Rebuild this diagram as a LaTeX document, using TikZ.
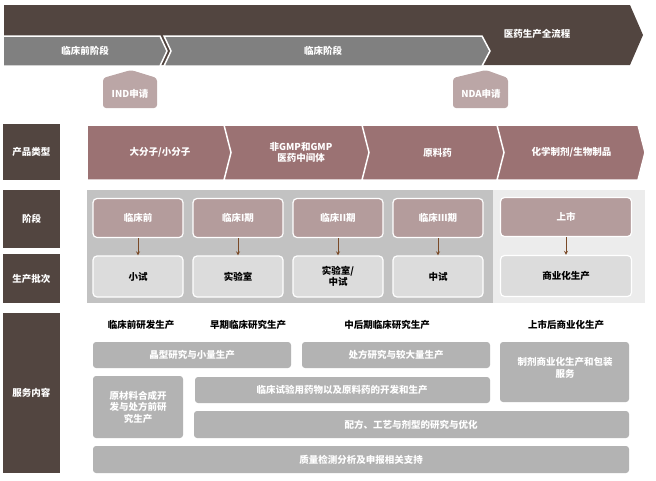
\documentclass[tikz,border=0pt]{standalone}
\usepackage{fontspec}
\setmainfont{Noto Sans CJK SC}
\usetikzlibrary{positioning}
\definecolor{darkbrown}{HTML}{524540}
\definecolor{midgray}{HTML}{808080}
\definecolor{rosebrown}{HTML}{9B7273}
\definecolor{rosepale}{HTML}{B49C9C}
\definecolor{bggray}{HTML}{C2C2C2}
\definecolor{bglight}{HTML}{ECECEC}
\definecolor{boxgray}{HTML}{B3B3B3}
\definecolor{batchgray}{HTML}{DCDCDC}
\definecolor{arrowbrown}{HTML}{7A4A28}
\begin{document}
\begin{tikzpicture}[x=1pt,y=-1pt,font=\fontsize{9.5}{11.5}\selectfont\bfseries]
    \tikzstyle{rowlabel} = [fill=darkbrown, text=white, align=center]
    \tikzstyle{stagebox} = [rectangle, rounded corners=4pt, draw=white, line width=1.2pt, fill=rosepale, text=white, minimum width=90pt, minimum height=39pt, align=center]
    \tikzstyle{batchbox} = [rectangle, rounded corners=4pt, draw=white, line width=1.2pt, fill=batchgray, minimum width=90pt, minimum height=41pt, align=center]
    \tikzstyle{servbox} = [rounded corners=3pt, fill=boxgray]
    \tikzstyle{servtext} = [text=white, align=center]
    \tikzstyle{arrow} = [arrowbrown, thick, ->, >=stealth]
    \useasboundingbox (0,0) rectangle (656,480);

    % top flow
    \fill[darkbrown] (4,5) -- (630,5) -- (643,35) -- (630,65) -- (4,65) -- cycle;
    \fill[midgray, draw=white, line width=1.5pt] (3,36) -- (160,36) -- (167,51) -- (160,66) -- (3,66) -- cycle;
    \fill[midgray, draw=white, line width=1.5pt] (164,36) -- (482,36) -- (490,51) -- (482,66) -- (164,66) -- (171,51) -- cycle;
    \node[text=white] (whole) at (537,34) {医药生产全流程};
    \node[text=white] (preclin) at (85,51) {临床前阶段};
    \node[text=white] (clin) at (323,51) {临床阶段};
    \fill[rosepale!90!white, rounded corners=3pt] (103,108) -- (103,78) -- (131,70) -- (157,78) -- (157,108) -- cycle;
    \node[text=white] (ind) at (130,94) {IND申请};
    \fill[rosepale!90!white, rounded corners=3pt] (453,108) -- (453,78) -- (486,70) -- (508,78) -- (508,108) -- cycle;
    \node[text=white] (nda) at (481,94) {NDA申请};

    % product types
    \node[rowlabel, minimum width=57pt, minimum height=56pt] (typelbl) at (31.5,152) {产品类型};
    \fill[rosebrown, draw=white, line width=1.5pt] (87,125) -- (232,125) -- (239,152.5) -- (232,180) -- (87,180) -- cycle;
    \node[text=white] (type1) at (160,152.5) {大分子/小分子};
    \foreach \xa/\xb/\txt [count=\i from 2] in {224/370/{非GMP和GMP\\医药中间体}, 362/505/{原料药}, 497/638/{化学制剂/生物制品}}{
        \fill[rosebrown, draw=white, line width=1.5pt] (\xa,125) -- (\xb,125) -- (\xb+7,152.5) -- (\xb,180) -- (\xa,180) -- (\xa+7,152.5) -- cycle;
        \node[text=white, align=center] (type\i) at ({(\xa+\xb)/2+4},152.5) {\txt};
    }

    % stages and batches
    \fill[bggray] (87,190) rectangle (493,303);
    \fill[bglight] (493,190) rectangle (645,303);
    \node[rowlabel, minimum width=57pt, minimum height=58pt] (stagelbl) at (31.5,219) {阶段};
    \node[rowlabel, minimum width=57pt, minimum height=49pt] (batchlbl) at (31.5,278.5) {生产批次};
    \foreach \x/\s/\b [count=\i] in {138/临床前/小试, 238/临床I期/实验室, 338/临床II期/{实验室/\\中试}, 438/临床III期/中试}{
        \node[stagebox] (st\i) at (\x,218) {\s};
        \node[batchbox] (bt\i) at (\x,276.5) {\b};
        \draw[arrow] (st\i) -- (bt\i);
    }
    \node[stagebox, minimum width=131pt] (st5) at (566,217) {上市};
    \node[batchbox, minimum width=131pt] (bt5) at (566,276) {商业化生产};
    \draw[arrow] (st5) -- (bt5);

    % services
    \node[rowlabel, minimum width=57pt, minimum height=160pt] (servlbl) at (31.5,393) {服务内容};
    \node (h1) at (141,325) {临床前研发生产};
    \node (h2) at (248,325) {早期临床研究生产};
    \node (h3) at (387,325) {中后期临床研究生产};
    \node (h4) at (566,325) {上市后商业化生产};
    \fill[servbox] (93,342) rectangle (291,368);
    \node[servtext] (s1) at (192,355) {晶型研究与小量生产};
    \fill[servbox] (302,342) rectangle (490,368);
    \node[servtext] (s2) at (396,355) {处方研究与较大量生产};
    \fill[servbox] (500,342) rectangle (629,402);
    \node[servtext] (s3) at (565,368) {制剂商业化生产和包装\\服务};
    \fill[servbox] (93,376) rectangle (183,438);
    \node[servtext] (s4) at (138,407) {原材料合成开\\发与处方前研\\究生产};
    \fill[servbox] (195,377) rectangle (490,403);
    \node[servtext] (s5) at (342,390) {临床试验用药物以及原料药的开发和生产};
    \fill[servbox] (194,411) rectangle (629,438);
    \node[servtext] (s6) at (411,424.5) {配方、工艺与剂型的研究与优化};
    \fill[servbox] (93,446) rectangle (629,473);
    \node[servtext] (s7) at (361,459.5) {质量检测分析及申报相关支持};
\end{tikzpicture}
\end{document}
